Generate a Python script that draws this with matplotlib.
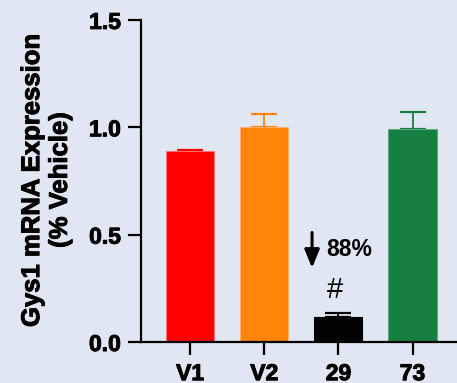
import numpy as np
import matplotlib
matplotlib.use("Agg")
import matplotlib.pyplot as plt
import matplotlib.patheffects as pe

plt.rcParams['font.family'] = ['Liberation Sans', 'DejaVu Sans']

groups = ['V1', 'V2', '29', '73']
means = [0.89, 1.0, 0.115, 0.99]
sems = [0.005, 0.06, 0.02, 0.08]
colors = ['#FF0000', '#FF8409', '#000000', '#157F42']
edges = ['#FF7070', '#FFB070', '#000000', '#5FA67C']

bg = '#E1E7F2'
heavy = [pe.withStroke(linewidth=0.7, foreground='black')]

fig = plt.figure(figsize=(4.57, 3.83), dpi=100, facecolor=bg)
ax = fig.add_axes([0.3085, 0.107, 0.6915, 0.841])
ax.set_facecolor(bg)

x = np.arange(len(groups))
ax.bar(x, means, 0.65, color=colors, edgecolor=edges, linewidth=0.8, zorder=2)
for i in range(len(groups)):
    ax.errorbar(x[i], means[i], yerr=[[0], [sems[i]]], fmt='none',
                ecolor=colors[i], elinewidth=1.3, capsize=9.4, capthick=1.6, zorder=1)

ax.set_xlim(-0.662, 3.6)
ax.set_ylim(0, 1.5)
ax.set_yticks([0.0, 0.5, 1.0, 1.5])
ax.set_yticklabels(['0.0', '0.5', '1.0', '1.5'])
ax.set_xticks(x)
ax.set_xticklabels(groups)

for s in ['top', 'right']:
    ax.spines[s].set_visible(False)
for s in ['left', 'bottom']:
    ax.spines[s].set_linewidth(1.6)
ax.tick_params(axis='both', width=1.6, length=9.5, pad=5, labelsize=16.5)
for lab in ax.get_xticklabels() + ax.get_yticklabels():
    lab.set_fontweight('bold')
    lab.set_path_effects(heavy)

fig.text(0.1007, 0.53, 'Gys1 mRNA Expression\n(% Vehicle)', rotation=90,
         ha='center', va='center', multialignment='center',
         fontsize=18.5, fontweight='bold', linespacing=1.2, path_effects=heavy)

# annotation over compound 29
ax.annotate('', xy=(1.645, 0.345), xytext=(1.645, 0.51),
            arrowprops=dict(arrowstyle='-|>,head_width=0.45,head_length=1.1',
                            color='black', lw=2.2, shrinkA=0, shrinkB=0))
ax.text(1.83, 0.433, '88%', fontsize=16.5, fontweight='bold', ha='left', va='center')
ax.text(1.96, 0.242, '#', fontsize=21, ha='center', va='center')

fig.savefig('out.png', dpi=100, facecolor=bg)
